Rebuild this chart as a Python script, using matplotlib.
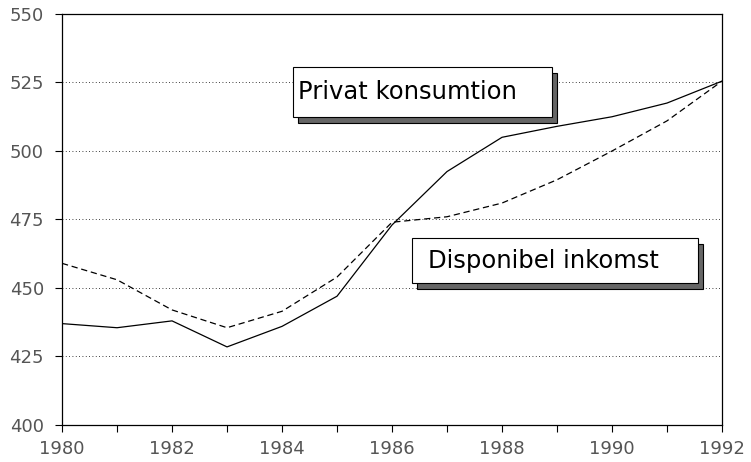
import matplotlib
matplotlib.use("Agg")
import matplotlib.pyplot as plt
from matplotlib.patches import Rectangle

years = list(range(1980, 1993))
privat_konsumtion = [437, 435.5, 438, 428.5, 436, 447, 473, 492.5, 505, 509, 512.5, 517.5, 525.5]
disponibel_inkomst = [459, 453, 442, 435.5, 441.5, 454, 474, 476, 481, 489.5, 500, 511, 525.5]
y_ticks = [400, 425, 450, 475, 500, 525, 550]

fig = plt.figure(figsize=(7.51, 4.62), dpi=100)
ax = fig.add_axes([0.0826, 0.0801, 0.8788, 0.8896])

ax.plot(years, privat_konsumtion, color="black", lw=0.9)
ax.plot(years, disponibel_inkomst, color="black", lw=0.9, ls=(0, (5, 3)))

ax.set_xlim(1980, 1992)
ax.set_ylim(400, 550)
ax.set_xticks(years)
ax.set_xticklabels([str(y) if y % 2 == 0 else "" for y in years])
ax.set_yticks(y_ticks)
ax.tick_params(axis="both", direction="out", length=5, width=0.8,
               labelsize=13, labelcolor="#555555", color="black")
ax.tick_params(axis="x", pad=6)
ax.tick_params(axis="y", pad=8)
for spine in ax.spines.values():
    spine.set_linewidth(0.9)
ax.grid(axis="y", color="black", ls=(0, (1, 3)), lw=0.6)


def label_box(x0, y0, x1, y1, text, tx):
    # shadow first, then the white box on top
    ax.add_patch(Rectangle((x0 + 0.0076, y0 - 0.0146), x1 - x0, y1 - y0,
                           transform=ax.transAxes, facecolor="#666666",
                           edgecolor="black", lw=0.8, clip_on=False, zorder=4))
    ax.add_patch(Rectangle((x0, y0), x1 - x0, y1 - y0,
                           transform=ax.transAxes, facecolor="white",
                           edgecolor="black", lw=0.8, clip_on=False, zorder=5))
    ax.text(tx, (y0 + y1) / 2, text, transform=ax.transAxes, ha="left",
            va="center", fontsize=17.5, color="black", zorder=6)


label_box(0.350, 0.749, 0.742, 0.871, "Privat konsumtion", 0.358)
label_box(0.530, 0.345, 0.964, 0.455, "Disponibel inkomst", 0.555)

fig.savefig("out.png", dpi=100)
